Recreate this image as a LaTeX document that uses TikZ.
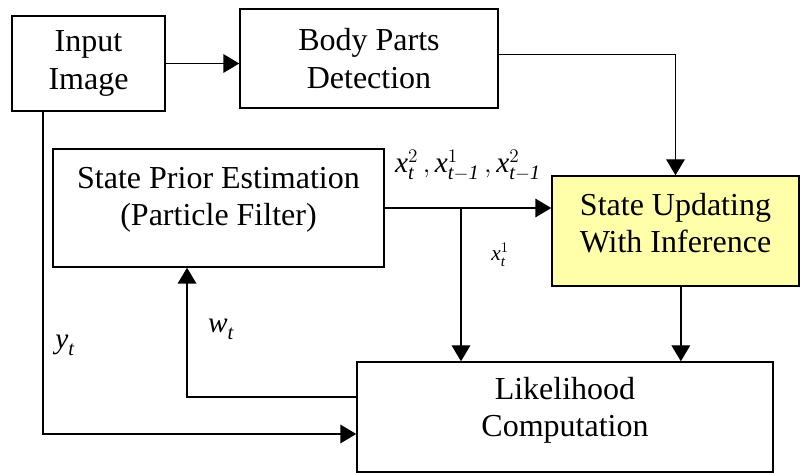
\documentclass[tikz,border=0pt]{standalone}
\usepackage{fontspec}
\setmainfont{Liberation Serif}
\usetikzlibrary{arrows.meta,calc}
\definecolor{updfill}{RGB}{255,255,170}
\newcommand{\vr}[3]{\mathit{#1}_{\mathit{#2}}^{#3}}

\begin{document}
\begin{tikzpicture}[
  x=0.75pt, y=-0.75pt,
  block/.style={draw, line width=1.1pt, align=center, inner sep=0pt,
    font=\fontsize{24}{28}\selectfont},
  txt/.style={align=center, font=\fontsize{24}{28}\selectfont},
  lbl/.style={font=\fontsize{22}{24}\selectfont},
  arrow/.style={-{Triangle[length=12pt, width=14pt]}, line width=1.1pt}
]
\useasboundingbox (0,0) rectangle (801,473);
\node[block, minimum width=114.75pt, minimum height=71.25pt] (input)
  at (88.5,63.5) {Input\\Image};
\node[block, minimum width=193.5pt, minimum height=74.25pt] (body)
  at (369,58.5) {Body Parts\\Detection};
\node[block, minimum width=248.25pt, minimum height=88.5pt,
  label={[txt, yshift=6pt]center:State Prior Estimation\\(Particle Filter)}]
  (prior) at (218.5,208) {};
\node[block, fill=updfill, minimum width=185.25pt, minimum height=82.5pt,
  label={[txt, yshift=6pt]center:State Updating\\With Inference}]
  (update) at (675.5,231) {};
\node[block, minimum width=312pt, minimum height=82.5pt,
  label={[txt, yshift=5pt]center:Likelihood\\Computation}]
  (like) at (565,417) {};
\coordinate (split) at (461,207);
\draw[arrow] (input.east) -- (input.east -| body.west);
\draw[arrow] ([yshift=3pt]body.east) -| (update.north);
\draw[arrow] (prior.east) -- (prior.east -| update.west);
\draw[arrow] (split) -- (split |- like.north);
\draw[arrow] ([xshift=4pt]update.south) -- ([xshift=4pt]update.south |- like.north);
\draw[arrow] ([yshift=15pt]like.west) -| ([xshift=-23.6pt]prior.south);
\draw[arrow] ([xshift=-34.1pt]input.south) |- ([yshift=-12.75pt]like.west);
\node[lbl] (xlbl) at (468,166)
  {$\vr{x}{t}{2}\,, \vr{x}{t-1}{1}\,, \vr{x}{t-1}{2}$};
\node[font=\fontsize{16}{18}\selectfont] (x1lbl) at (500,255) {$\vr{x}{t}{1}$};
\node[lbl] (ylbl) at (65,345) {$\vr{y}{t}{}$};
\node[lbl] (wlbl) at (221,329) {$\vr{w}{t}{}$};
\end{tikzpicture}
\end{document}
